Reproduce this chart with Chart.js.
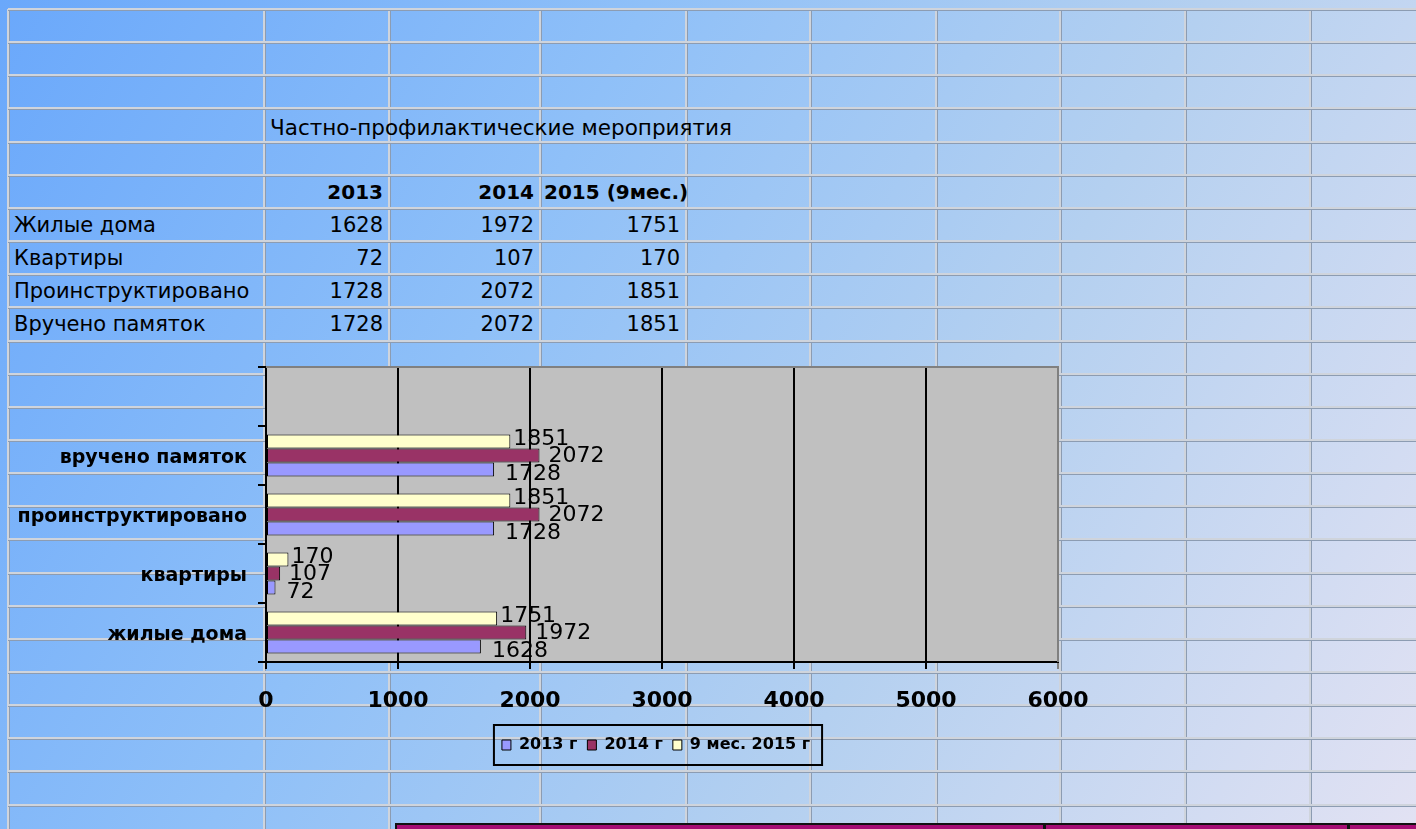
<!DOCTYPE html>
<html>
<head>
<meta charset="utf-8">
<script src="https://cdn.jsdelivr.net/npm/chart.js@4"></script>
<style>
  html, body { margin: 0; padding: 0; }
  body {
    width: 1416px; height: 829px; overflow: hidden; position: relative;
    background: linear-gradient(118deg, #6aa8fb 0%, #8fc0f8 35%, #b4d0f0 65%, #e2e2f3 100%);
    font-family: "DejaVu Sans", sans-serif;
  }
  .vline { position: absolute; top: 9px; bottom: 0; width: 2px; background: #cfd4dc; border-right: 1px solid #8c9cb2; }
  .hline { position: absolute; left: 8px; right: 0; height: 2px; background: #cfd4dc; border-bottom: 1px solid #8c9cb2; }
  .cell { position: absolute; height: 33px; line-height: 33px; font-size: 21px; color: #000; white-space: nowrap; }
  .title { font-size: 21.5px; }
  .num { text-align: right; }
  .bold { font-weight: bold; font-size: 20px; }
  #chart { position: absolute; left: 0; top: 0; }
  #strip { position: absolute; left: 395px; top: 823px; right: -4px; height: 12px; background: #a50d74; border: 2px solid #111; }
  .sdiv { position: absolute; top: 823px; width: 3px; height: 10px; background: #111; }
</style>
</head>
<body>
<div id="sheet"></div>
<div id="strip"></div>
<div class="sdiv" style="left:1043px"></div>
<div class="sdiv" style="left:1347px"></div>
<canvas id="chart" width="1416" height="829"></canvas>
<script>
const categories = ['жилые дома', 'квартиры', 'проинструктировано', 'вручено памяток', ''];
const values2013 = [1628, 72, 1728, 1728, null];
const values2014 = [1972, 107, 2072, 2072, null];
const values2015 = [1751, 170, 1851, 1851, null];
const seriesNames = ['2013 г', '2014 г', '9 мес. 2015 г'];
const xMin = 0, xMax = 6000, xStep = 1000;

const tableTitle = 'Частно-профилактические мероприятия';
const tableHeader = ['2013', '2014', '2015 (9мес.)'];
const tableRows = ['Жилые дома', 'Квартиры', 'Проинструктировано', 'Вручено памяток'];

// spreadsheet grid behind everything
const colX = [8, 264, 389, 540, 686, 810, 936, 1060, 1185, 1310];
const rowH = 33.15, rowTop = 9;
const sheet = document.getElementById('sheet');
colX.forEach(function (x) {
  const d = document.createElement('div');
  d.className = 'vline';
  d.style.left = (x - 1) + 'px';
  sheet.appendChild(d);
});
for (let k = 0; k < 26; k++) {
  const d = document.createElement('div');
  d.className = 'hline';
  d.style.top = Math.round(rowTop + k * rowH - 1) + 'px';
  sheet.appendChild(d);
}

function addCell(text, row, left, width, cls) {
  const d = document.createElement('div');
  d.className = 'cell ' + (cls || '');
  d.textContent = text;
  d.style.top = Math.round(rowTop + row * rowH + 1) + 'px';
  d.style.left = left + 'px';
  if (width) d.style.width = width + 'px';
  sheet.appendChild(d);
}

addCell(tableTitle, 3.05, 270, null, 'title');
addCell(tableHeader[0], 5, 264, 119, 'num bold');
addCell(tableHeader[1], 5, 389, 145, 'num bold');
addCell(tableHeader[2], 5, 544, null, 'bold');
tableRows.forEach(function (name, i) {
  addCell(name, 6 + i, 14);
  addCell(String(values2013[i]), 6 + i, 264, 119, 'num');
  addCell(String(values2014[i]), 6 + i, 389, 145, 'num');
  addCell(String(values2015[i]), 6 + i, 540, 140, 'num');
});

// chart: datasets listed top-to-bottom inside a category (2015 on top), legend reversed
const labelOffsets = [[3, -2], [9, 1], [11, 5]];

const plotBackground = {
  id: 'plotBackground',
  afterLayout(chart) {
    // legend sits a little left of the plot centre in the original
    chart.legend.left -= 6;
    chart.legend.right -= 6;
  },
  beforeDraw(chart) {
    const a = chart.chartArea, c = chart.ctx;
    c.save();
    c.fillStyle = '#c0c0c0';
    c.fillRect(a.left, a.top, a.right - a.left, a.bottom - a.top);
    c.restore();
  },
  afterDraw(chart) {
    const a = chart.chartArea, c = chart.ctx;
    c.save();
    c.strokeStyle = '#808080';
    c.lineWidth = 2;
    c.beginPath();
    c.moveTo(a.left, a.top);
    c.lineTo(a.right, a.top);
    c.lineTo(a.right, a.bottom);
    c.stroke();
    // legend frame
    const boxes = chart.legend.legendHitBoxes;
    if (boxes && boxes.length) {
      let l = Infinity, r = -Infinity, t = Infinity, b = -Infinity;
      boxes.forEach(function (h) {
        l = Math.min(l, h.left); r = Math.max(r, h.left + h.width);
        t = Math.min(t, h.top); b = Math.max(b, h.top + h.height);
      });
      c.strokeStyle = '#000';
      c.lineWidth = 2;
      c.strokeRect(l - 8, t - 12, r - l + 20, b - t + 24);
    }
    c.restore();
  }
};

const valueLabels = {
  id: 'valueLabels',
  afterDatasetsDraw(chart) {
    const c = chart.ctx;
    c.save();
    c.font = '22px "DejaVu Sans"';
    c.fillStyle = '#000';
    c.textBaseline = 'middle';
    c.textAlign = 'left';
    chart.data.datasets.forEach(function (ds, i) {
      chart.getDatasetMeta(i).data.forEach(function (bar, j) {
        const v = ds.data[j];
        if (v == null) return;
        c.fillText(String(v), bar.x + labelOffsets[i][0], bar.y + labelOffsets[i][1]);
      });
    });
    c.restore();
  }
};

new Chart(document.getElementById('chart'), {
  type: 'bar',
  data: {
    labels: categories,
    datasets: [
      { label: seriesNames[2], data: values2015, backgroundColor: '#ffffcc' },
      { label: seriesNames[1], data: values2014, backgroundColor: '#993366' },
      { label: seriesNames[0], data: values2013, backgroundColor: '#9999ff' }
    ].map(function (d) {
      return Object.assign(d, { borderColor: '#000', borderWidth: 1, borderSkipped: false, categoryPercentage: 0.714, barPercentage: 1 });
    })
  },
  options: {
    indexAxis: 'y',
    responsive: false,
    animation: false,
    devicePixelRatio: 1,
    layout: { padding: { top: 367, right: 358, bottom: 66, left: 0 } },
    scales: {
      x: {
        min: xMin, max: xMax,
        ticks: {
          stepSize: xStep, color: '#000', padding: 19,
          font: { family: 'DejaVu Sans', size: 22, weight: 'bold' },
          callback: function (v) { return String(v); }
        },
        grid: {
          color: function (ctx) { return ctx.tick && ctx.tick.value === xMax ? '#808080' : '#000'; },
          lineWidth: 2, tickLength: 7
        },
        border: { color: '#000', width: 2 },
        afterFit: function (scale) { scale.height = 65; }
      },
      y: {
        reverse: true,
        ticks: { color: '#000', padding: 11, labelOffset: 3, font: { family: 'DejaVu Sans', size: 19, weight: 'bold' } },
        grid: { drawOnChartArea: false, drawTicks: true, tickLength: 8, color: '#000', lineWidth: 2, offset: true },
        border: { color: '#000', width: 2 },
        afterFit: function (scale) { scale.width = 266; }
      }
    },
    plugins: {
      legend: {
        position: 'bottom',
        fullSize: false,
        reverse: true,
        labels: { color: '#000', boxWidth: 9, boxHeight: 10, padding: 10, font: { family: 'DejaVu Sans', size: 16, weight: 'bold' } }
      },
      tooltip: { enabled: false }
    }
  },
  plugins: [plotBackground, valueLabels]
});
</script>
</body>
</html>
